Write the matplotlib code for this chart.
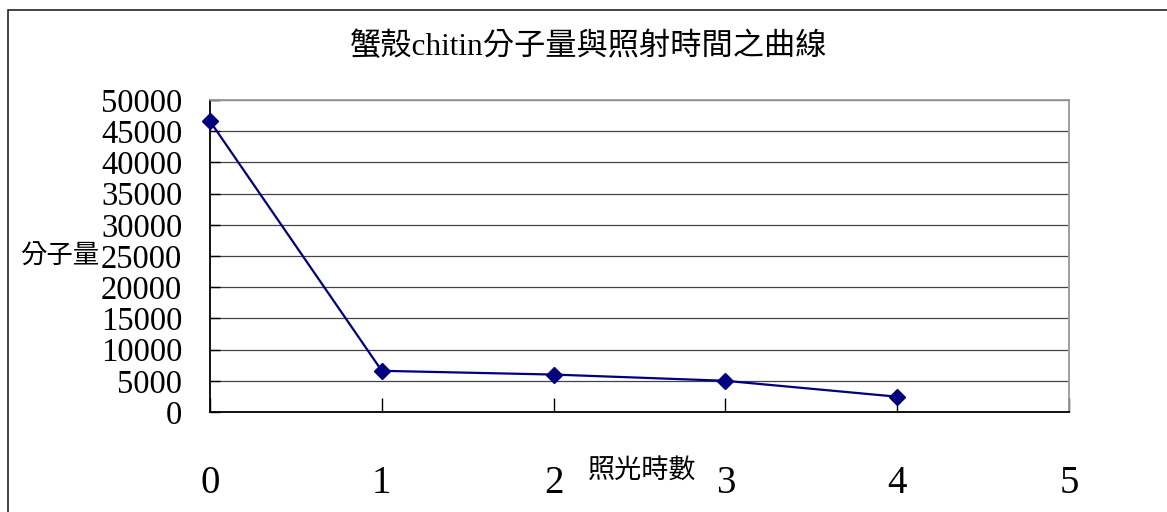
import matplotlib.pyplot as plt
import matplotlib.patches as patches

# chitin molecular weight vs irradiation time
hours = [0, 1, 2, 3, 4]
mol_weight = [46600, 6600, 6000, 5000, 2450]
x_ticks = [0, 1, 2, 3, 4, 5]
y_ticks = list(range(0, 50001, 5000))

title = '蟹殼chitin分子量與照射時間之曲線'
xlabel = '照光時數'
ylabel = '分子量'

fonts = ['Liberation Serif', 'Noto Sans CJK TC']
plt.rcParams['font.family'] = fonts

W, H = 1167, 512
fig = plt.figure(figsize=(W / 100, H / 100), dpi=100)
ax = fig.add_axes([210 / W, 1 - 412 / H, (1069 - 210) / W, (412 - 100) / H])

ax.plot(hours, mol_weight, color='#000080', lw=1.6, marker='D', ms=8, zorder=3, clip_on=False)

ax.set_xlim(0, 5)
ax.set_ylim(0, 50000)
ax.set_xticks(x_ticks)
ax.set_yticks(y_ticks)
ax.set_xticklabels([str(v) for v in x_ticks], fontsize=28, family='Liberation Serif')
ax.set_yticklabels([str(v) for v in y_ticks], fontsize=23.5, family='Liberation Serif')
ax.tick_params(axis='x', direction='in', length=10, width=1, pad=38, color='black')
ax.tick_params(axis='y', direction='in', length=7, width=1, pad=20, color='black')
ax.yaxis.grid(True, color='#444444', lw=0.9)
ax.set_axisbelow(True)

for s in ['left', 'bottom']:
    ax.spines[s].set_color('black')
    ax.spines[s].set_linewidth(1.3)
for s in ['top', 'right']:
    ax.spines[s].set_color('#999999')
    ax.spines[s].set_linewidth(1.3)

fig.text(589 / W, 1 - 47 / H, title, fontsize=22.5, ha='center', va='center')
fig.text(60 / W, 1 - 257 / H, ylabel, fontsize=19, ha='center', va='center')
fig.text(642 / W, 1 - 471 / H, xlabel, fontsize=19.5, ha='center', va='center')

# outer chart border (runs off right and bottom edges)
fig.patches.append(patches.Rectangle((8 / W, -0.1), 1.2, 1.1 - 10 / H, transform=fig.transFigure,
                                     fill=False, edgecolor='#222222', lw=1.2, clip_on=False))

fig.savefig('out.png', dpi=100)
